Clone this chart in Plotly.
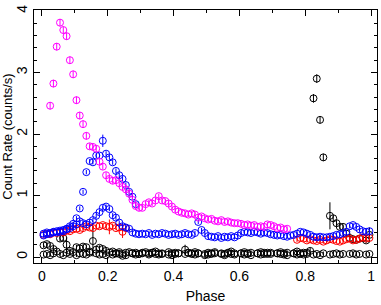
import plotly.graph_objects as go

PHASE = [0.005, 0.015, 0.025, 0.035, 0.045, 0.055, 0.065, 0.075, 0.085, 0.095,
         0.105, 0.115, 0.125, 0.135, 0.145, 0.155, 0.165, 0.175, 0.185, 0.195,
         0.205, 0.215, 0.225, 0.235, 0.245, 0.255, 0.265, 0.275, 0.285, 0.295,
         0.305, 0.315, 0.325, 0.335, 0.345, 0.355, 0.365, 0.375, 0.385, 0.395,
         0.405, 0.415, 0.425, 0.435, 0.445, 0.455, 0.465, 0.475, 0.485, 0.495,
         0.505, 0.515, 0.525, 0.535, 0.545, 0.555, 0.565, 0.575, 0.585, 0.595,
         0.605, 0.615, 0.625, 0.635, 0.645, 0.655, 0.665, 0.675, 0.685, 0.695,
         0.705, 0.715, 0.725, 0.735, 0.745, 0.755, 0.765, 0.775, 0.785, 0.795,
         0.805, 0.815, 0.825, 0.835, 0.845, 0.855, 0.865, 0.875, 0.885, 0.895,
         0.905, 0.915, 0.925, 0.935, 0.945, 0.955, 0.965, 0.975, 0.985, 0.995]

N = None

BLACK_BASE = [0.04, 0.05, 0.03, 0.06, N, 0.05, 0.03, 0.07, 0.05, N,
              0.03, 0.06, 0.05, 0.04, 0.07, N, 0.06, 0.04, 0.05, 0.03,
              N, 0.04, 0.06, 0.05, 0.02, 0.03, N, 0.06, 0.04, 0.05,
              0.06, N, 0.04, 0.07, 0.05, 0.04, 0.06, N, 0.04, 0.03,
              0.05, 0.06, N, 0.05, 0.07, 0.05, 0.04, 0.06, N, 0.03,
              0.04, 0.05, 0.06, N, 0.05, 0.03, 0.06, 0.05, 0.04, N,
              0.06, 0.04, 0.05, 0.03, N, 0.06, 0.04, 0.05, 0.07, 0.05,
              N, 0.06, 0.05, 0.04, 0.03, N, 0.06, 0.04, 0.05, 0.04,
              0.05, N, 0.04, 0.05, 0.03, 0.06, N, 0.04, 0.05, 0.06,
              0.04, 0.05, N, 0.05, 0.06, 0.04, 0.05, N, 0.04, 0.05]
BLACK_BASE_ERR = [0.03] * 100

BLACK_PULSE = [0.19, 0.21, 0.18, 0.13, 0.09, 0.30, 0.31, 0.20, 0.10, 0.08,
               0.16, 0.14, 0.17, 0.16, 0.09, 0.26, 0.12, 0.15, 0.13, 0.10,
               0.07, 0.09, 0.06, 0.08, 0.05, 0.07, 0.08, 0.06, 0.07, 0.05,
               0.07, 0.08, 0.06, 0.07, 0.09, 0.06, 0.05, N, 0.08, 0.06,
               0.07, 0.06, N, 0.12, 0.07, 0.06, 0.08, 0.06, N, 0.05,
               0.07, 0.06, 0.08, N, 0.06, 0.05, 0.07, 0.09, 0.06, N,
               0.06, 0.08, 0.06, 0.07, N, 0.06, 0.08, 0.07, 0.05, 0.07,
               N, 0.06, 0.08, 0.06, 0.07, N, 0.06, 0.09, 0.06, 0.07,
               0.07, 0.10, 2.58, 2.90, 2.23, 1.62, N, 0.67, 0.63, 0.55,
               0.49, 0.49, 0.38, 0.31, 0.29, 0.28, 0.30, 0.31, 0.27, 0.36]
BLACK_PULSE_ERR = [0.04, 0.04, 0.04, 0.04, 0.04, 0.05, 0.05, 0.12, 0.04, 0.04,
                   0.04, 0.04, 0.04, 0.04, 0.04, 0.25, 0.04, 0.04, 0.04, 0.04,
                   0.04, 0.04, 0.04, 0.04, 0.04, 0.04, 0.04, 0.04, 0.04, 0.04,
                   0.04, 0.04, 0.04, 0.04, 0.04, 0.04, 0.04, 0.04, 0.04, 0.04,
                   0.04, 0.04, 0.04, 0.08, 0.04, 0.04, 0.04, 0.04, 0.04, 0.04,
                   0.04, 0.04, 0.04, 0.04, 0.04, 0.04, 0.04, 0.04, 0.04, 0.04,
                   0.04, 0.04, 0.04, 0.04, 0.04, 0.04, 0.04, 0.04, 0.04, 0.04,
                   0.04, 0.04, 0.04, 0.04, 0.04, 0.04, 0.04, 0.04, 0.04, 0.04,
                   0.04, 0.05, 0.07, 0.07, 0.06, 0.06, 0.05, 0.22, 0.05, 0.05,
                   0.04, 0.04, 0.04, 0.04, 0.04, 0.04, 0.04, 0.04, 0.04, 0.12]

RED = [0.36, 0.38, 0.37, 0.40, 0.39, 0.41, 0.40, 0.43, 0.42, 0.45,
       0.46, 0.44, 0.47, 0.50, 0.48, 0.47, 0.51, 0.50, 0.52, 0.50,
       0.49, 0.51, 0.47, 0.48, 0.41, 0.47, N, N, N, N,
       N, N, N, N, N, N, N, N, N, N,
       N, N, N, N, N, N, N, N, N, N,
       N, N, N, N, N, N, N, N, N, N,
       N, N, N, N, N, N, N, N, N, N,
       N, N, N, N, N, N, N, 0.28, 0.31, 0.30,
       0.27, 0.29, 0.27, 0.26, 0.28, 0.25, 0.27, 0.29, 0.28, 0.26,
       0.25, 0.27, 0.29, 0.30, 0.27, 0.28, 0.30, 0.32, 0.30, 0.31]
RED_ERR = [0.035] * 20 + [0.12, 0.035, 0.035, 0.035, 0.10] + [0.035] * 75

BLUE_LOW = [0.38, 0.40, 0.39, 0.41, 0.42, 0.41, 0.44, 0.45, 0.47, 0.50,
            0.53, 0.58, 0.55, 0.53, 0.56, 0.60, 0.67, 0.73, 0.80, 0.82,
            0.78, 0.68, 0.64, 0.56, 0.50, 0.48, 0.46, 0.40, 0.38, 0.37,
            0.38, 0.37, 0.39, 0.36, 0.38, 0.37, 0.39, 0.38, 0.36, 0.37,
            0.38, 0.36, 0.37, 0.39, 0.37, 0.36, 0.39, 0.57, 0.44, 0.39,
            0.34, 0.33, 0.32, 0.34, 0.31, 0.33, 0.32, 0.34, 0.32, 0.35,
            0.39, 0.41, 0.40, 0.39, 0.41, 0.40, 0.38, 0.40, 0.39, 0.37,
            0.36, 0.35, 0.36, 0.34, 0.33, 0.35, 0.36, 0.38, 0.41, 0.40,
            0.38, 0.36, 0.33, 0.32, 0.33, 0.32, 0.32, 0.33, 0.34, 0.36,
            0.37, 0.39, 0.41, 0.50, 0.52, 0.49, 0.45, 0.42, 0.41, 0.42]
BLUE_LOW_ERR = [0.035] * 100

BLUE_HIGH = [0.35, 0.37, 0.38, 0.40, 0.40, 0.43, 0.42, 0.46, 0.50, 0.54,
             0.63, 0.79, 1.06, 1.38, 1.56, 1.54, 1.65, 1.65, 1.89, 1.68,
             1.62, 1.54, 1.40, 1.33, 1.27, 1.17, 1.06, 0.98, 0.86]
BLUE_HIGH_ERR = [0.035] * 18 + [0.10] + [0.04] * 10

MAGENTA = [N, N, 2.46, 2.82, 3.42, 3.81, 3.69, 3.59, 3.20, 2.97,
           2.55, 2.30, 2.16, 1.97, 1.80, 1.79, 1.76, 1.55, 1.47, 1.33,
           1.27, 1.24, 1.25, 1.20, 1.14, 1.10, 1.03, 0.93, 0.83, 0.80,
           0.80, 0.86, 0.89, 0.87, 0.92, 0.99, 0.92, 0.91, 0.87, 0.82,
           0.77, 0.74, 0.72, 0.71, 0.69, 0.71, 0.69, 0.64, 0.66, 0.63,
           0.61, 0.62, 0.59, 0.58, 0.60, 0.57, 0.58, 0.56, 0.55, 0.55,
           0.54, 0.52, 0.53, 0.51, 0.52, 0.49, 0.50, 0.49, 0.53, 0.52,
           0.50, 0.47, 0.48, 0.45, 0.46]
MAGENTA_ERR = [0.06] * 14 + [0.05] * 16 + [0.04] * 45

SERIES = [
    ("black", BLACK_BASE, BLACK_BASE_ERR, "#000000"),
    ("black", BLACK_PULSE, BLACK_PULSE_ERR, "#000000"),
    ("red", RED, RED_ERR, "#ff0000"),
    ("blue", BLUE_LOW, BLUE_LOW_ERR, "#0000ff"),
    ("blue", BLUE_HIGH, BLUE_HIGH_ERR, "#0000ff"),
    ("magenta", MAGENTA, MAGENTA_ERR, "#ff00ff"),
]

fig = go.Figure()
for name, vals, errs, col in SERIES:
    fig.add_trace(go.Scatter(
        x=PHASE[:len(vals)], y=vals, mode="markers", name=name,
        marker=dict(symbol="circle-open", size=7, color=col, line=dict(width=1, color=col)),
        error_y=dict(type="data", array=errs[:len(vals)], visible=True,
                     color=col, thickness=1, width=0),
        showlegend=False,
    ))

FONT = "Liberation Sans, Arial, Helvetica, sans-serif"
axis_common = dict(
    showline=True, linecolor="black", linewidth=1, mirror="allticks",
    ticks="inside", tickcolor="black", tickwidth=1, ticklen=6,
    showgrid=False, zeroline=False,
    tickfont=dict(family=FONT, size=14, color="black"),
)
fig.update_layout(
    width=381, height=305,
    margin=dict(l=34, r=3, t=10, b=40),
    paper_bgcolor="white", plot_bgcolor="white",
    xaxis=dict(range=[-0.024, 1.018], tickmode="linear", tick0=0, dtick=0.2,
               minor=dict(dtick=0.1, ticks="inside", ticklen=3, tickcolor="black", showgrid=False),
               title=dict(text="Phase", font=dict(family=FONT, size=14, color="black"), standoff=8),
               **axis_common),
    yaxis=dict(range=[-0.097, 4.016], tickmode="linear", tick0=0, dtick=1, tickangle=-90,
               minor=dict(dtick=0.2, ticks="inside", ticklen=3, tickcolor="black", showgrid=False),
               **axis_common),
    annotations=[dict(text="Count Rate (counts/s)", textangle=-90, xref="paper", yref="paper",
                      x=-0.078, y=0.5, xanchor="center", yanchor="middle", showarrow=False,
                      font=dict(family=FONT, size=13, color="black"))],
)
fig.write_html("out.html", config={"displayModeBar": False},
               post_script="document.body.style.margin='0';document.body.style.overflow='hidden';")
